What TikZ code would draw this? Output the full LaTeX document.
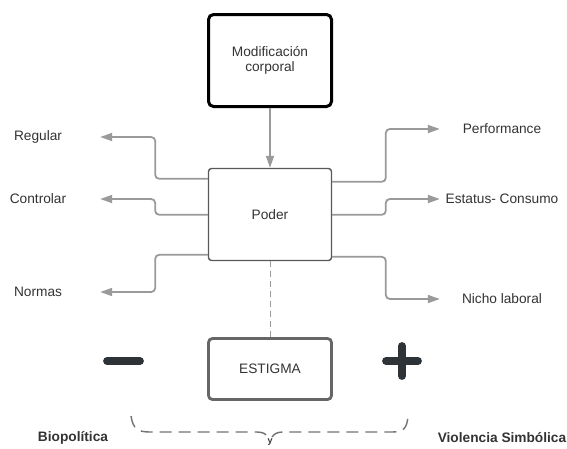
\documentclass[tikz,border=0pt]{standalone}
\usepackage{fontspec}
\setmainfont{Liberation Sans}
\usetikzlibrary{arrows.meta,calc}
\definecolor{txt}{HTML}{333333}
\definecolor{conncol}{HTML}{9A9A9A}
\definecolor{signcol}{HTML}{2E3338}
\begin{document}
\begin{tikzpicture}[x=1pt,y=-1pt,
  font=\fontsize{13.7}{16}\selectfont,
  lbl/.style={text=txt,inner sep=0pt,minimum width=124pt,minimum height=16pt,align=center},
  blbl/.style={text=txt,inner sep=0pt,font=\fontsize{13.7}{16}\selectfont\bfseries},
  topbox/.style={draw=black,line width=3pt,rounded corners=5pt,minimum width=123pt,minimum height=92pt,text=txt,align=center,inner sep=0pt},
  powbox/.style={draw=black!65,line width=1.4pt,rounded corners=3pt,minimum width=123pt,minimum height=92pt,text=txt,inner sep=0pt},
  stbox/.style={draw=black!60,line width=2.8pt,rounded corners=4pt,minimum width=123pt,minimum height=61pt,text=txt,inner sep=0pt},
  conn/.style={draw=conncol,line width=1.8pt,rounded corners=4pt,-{Triangle[length=12pt,width=8pt]}},
  sign/.style={draw=signcol,line width=7.8pt,line cap=round},
  bracestyle/.style={draw=black!55,line width=1.4pt,dash pattern=on 12pt off 7pt},
]
\useasboundingbox (0,0) rectangle (567,448);
\fill[white] (0,0) rectangle (567,448);

% boxes
\node[topbox] (mod) at (270,60.5) {Modificación\\[-1pt]corporal};
\node[powbox] (poder) at (270,214.5) {Poder};
\node[stbox] (estigma) at (270,369) {ESTIGMA};

% labels
\node[lbl] (regular) at (38,137) {Regular};
\node[lbl] (controlar) at (38,199) {Controlar};
\node[lbl] (normas) at (38,292) {Normas};
\node[lbl] (perf) at (502,129) {Performance};
\node[lbl] (estatus) at (502,199) {Estatus- Consumo};
\node[lbl] (nicho) at (502,299) {Nicho laboral};

\node[blbl] (bio) at (73,438) {Biopolítica};
\node[blbl] (viol) at (502,438) {Violencia Simbólica};
\node[text=txt,inner sep=0pt,font=\fontsize{9}{10}\selectfont\bfseries] (y) at (270,442.5) {y};

% connectors
\draw[conn,rounded corners=0pt] (mod.south) -- (poder.north);
\draw[conn] ($(poder.north west)+(0,11)$) -| ([xshift=55pt]regular.east) -- (regular.east);
\draw[conn] ($(poder.north west)+(0,47)$) -| ([xshift=55pt]controlar.east) -- (controlar.east);
\draw[conn] ($(poder.north west)+(0,87)$) -| ([xshift=55pt]normas.east) -- (normas.east);
\draw[conn] ($(poder.north east)+(0,14)$) -| ([xshift=-54pt]perf.west) -- (perf.west);
\draw[conn] ($(poder.north east)+(0,47)$) -| ([xshift=-54pt]estatus.west) -- (estatus.west);
\draw[conn] ($(poder.north east)+(0,89)$) -| ([xshift=-54pt]nicho.west) -- (nicho.west);
\draw[draw=conncol,line width=1pt,dash pattern=on 6pt off 4pt] (poder.south) -- (estigma.north);

% signs
\draw[sign] (107,361) -- (140,361);
\draw[sign] (386,361) -- (418,361);
\draw[sign] (402,346) -- (402,376);

% brace
\path[bracestyle] (131,416) .. controls (133,429) and (138,432) .. (150,432)
  -- (257,432) .. controls (263,432) and (266,434) .. (268,437);
\path[bracestyle] (272,437) .. controls (274,434) and (277,432) .. (283,432)
  -- (392,432) .. controls (403,432) and (407,429) .. (408,416);
\end{tikzpicture}
\end{document}
